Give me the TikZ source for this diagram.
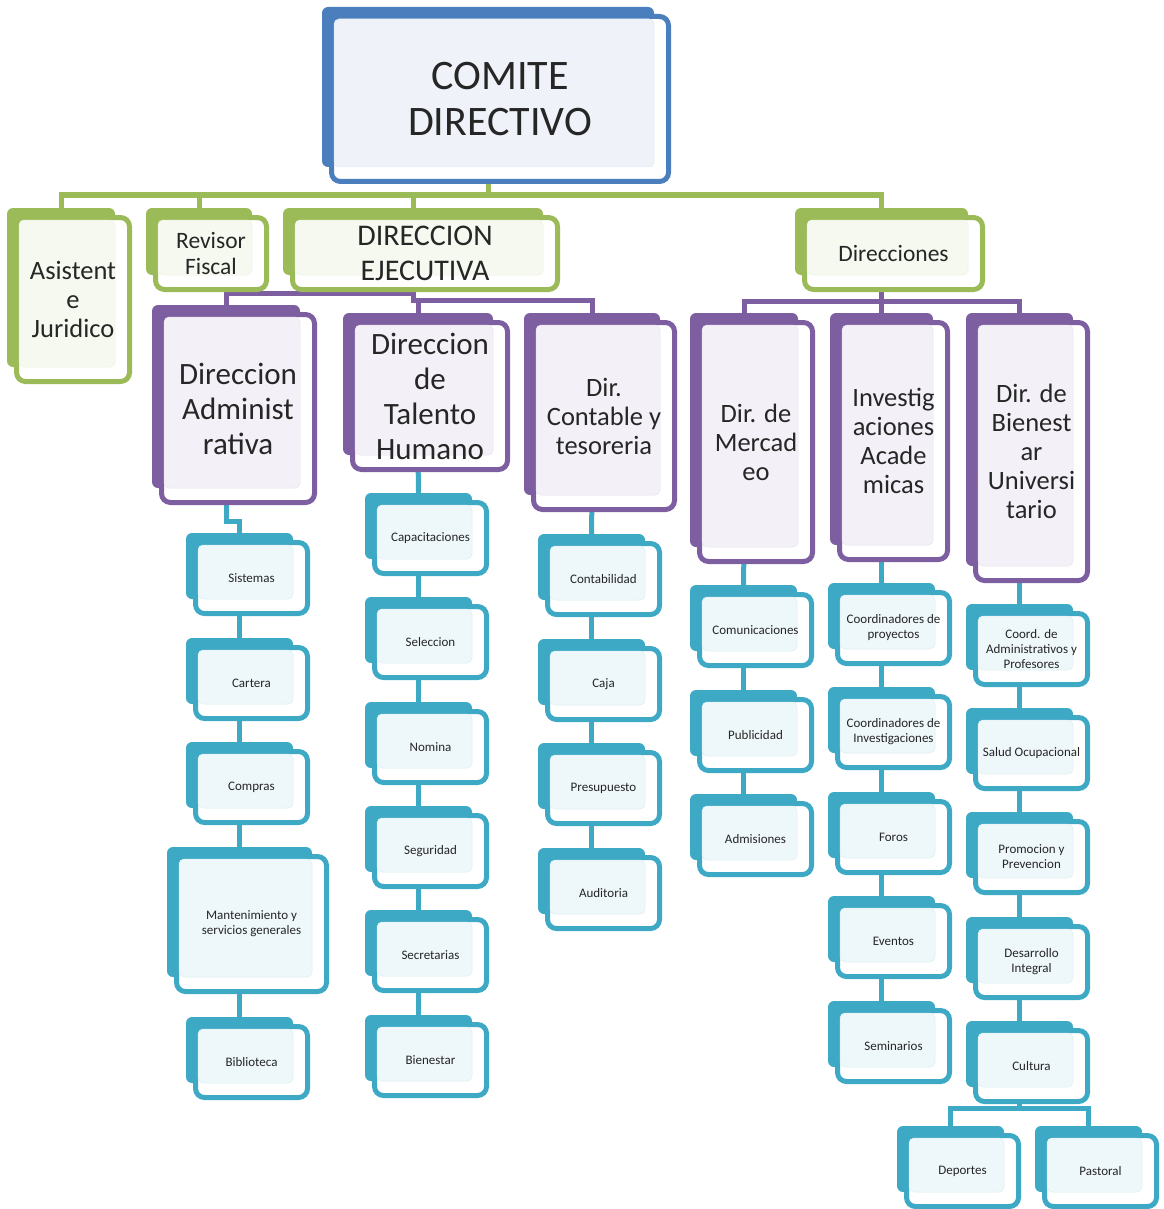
\documentclass[tikz,border=0pt]{standalone}
\usepackage{fontspec}
\setmainfont{Carlito}
\usetikzlibrary{backgrounds}

\definecolor{cBlue}{HTML}{4A7EBC}
\definecolor{cGreen}{HTML}{9BBB59}
\definecolor{cPurple}{HTML}{7D5FA1}
\definecolor{cTeal}{HTML}{3EA9C5}
\definecolor{txtgray}{HTML}{262626}

\newcommand\fsComite{\fontsize{42}{46}\selectfont}
\newcommand\fsAsis{\fontsize{26.5}{29}\selectfont}
\newcommand\fsRevisor{\fontsize{23.5}{26}\selectfont}
\newcommand\fsDirEjec{\fontsize{30}{35}\selectfont}
\newcommand\fsLarge{\fontsize{31}{35}\selectfont}
\newcommand\fsMid{\fontsize{26.5}{29}\selectfont}
\newcommand\fsTeal{\fontsize{13}{15}\selectfont}

% #1 name, #2 colour, #3 font, #4-#7 back box corners, #8 text
\newcommand\orgbox[8]{%
  \node[backbox=#2, minimum width={(#6-#4)*1pt}, minimum height={(#7-#5)*1pt}]
    (#1) at ({(#4+#6)/2},{(#5+#7)/2}) {};
  \draw[frontbox=#2] ({#4+9.5},{#5+9.5}) rectangle ({#6+14.5},{#7+14.5});
  \filldraw[panelbox=#2] ({#4+12},{#5+12}) rectangle (#6,#7);
  \node[boxtext, font=#3] (#1-t) at ({(#4+#6)/2+12},{(#5+#7)/2+12}) {#8};
}

\begin{document}
\begin{tikzpicture}[x=1pt,y=-1pt,
    backbox/.style={fill=#1, rounded corners=6pt, inner sep=0pt, outer sep=0pt},
    frontbox/.style={draw=#1, line width=5pt, fill=white, rounded corners=9pt},
    panelbox/.style={fill=#1!9, draw=#1!18, line width=0.5pt, rounded corners=5pt},
    boxtext/.style={align=center, text=txtgray, inner sep=0pt},
    link/.style={draw=#1, line width=5pt}
  ]
  \useasboundingbox (0,0) rectangle (1163,1209);

  % top
  \orgbox{comite}{cBlue}{\fsComite}{322}{7}{654}{167}{COMITE\\DIRECTIVO}

  % second level
  \orgbox{asis}{cGreen}{\fsAsis}{7}{208}{115}{367}{Asistent\\e\\Juridico}
  \orgbox{revisor}{cGreen}{\fsRevisor}{146}{208}{252}{275}{Revisor\\Fiscal}
  \orgbox{dirEjec}{cGreen}{\fsDirEjec}{283}{208}{543}{275}{DIRECCION\\EJECUTIVA}
  \orgbox{dirs}{cGreen}{\fsRevisor}{795}{208}{968}{275}{Direcciones}

  % directions
  \orgbox{admin}{cPurple}{\fsLarge}{152}{305}{300}{488}{Direccion\\Administ\\rativa}
  \orgbox{talento}{cPurple}{\fsLarge}{343}{313}{493}{455}{Direccion\\de\\Talento\\Humano}
  \orgbox{contable}{cPurple}{\fsMid}{524}{313}{660}{495}{Dir.\\Contable y\\tesoreria}
  \orgbox{mercadeo}{cPurple}{\fsMid}{690}{313}{798}{547}{Dir. de\\Mercad\\eo}
  \orgbox{invest}{cPurple}{\fsMid}{830}{313}{933}{545}{Investig\\aciones\\Acade\\micas}
  \orgbox{bienestar}{cPurple}{\fsMid}{966}{313}{1073}{566}{Dir. de\\Bienest\\ar\\Universi\\tario}

  % administrativa
  \orgbox{sist}{cTeal}{\fsTeal}{186}{533}{293}{599}{Sistemas}
  \orgbox{cart}{cTeal}{\fsTeal}{186}{638}{293}{704}{Cartera}
  \orgbox{comp}{cTeal}{\fsTeal}{186}{742}{293}{808}{Compras}
  \orgbox{mant}{cTeal}{\fsTeal}{167}{847}{312}{977}{Mantenimiento y\\servicios generales}
  \orgbox{bibl}{cTeal}{\fsTeal}{186}{1017}{293}{1083}{Biblioteca}

  % talento humano
  \orgbox{capa}{cTeal}{\fsTeal}{365}{493}{472}{559}{Capacitaciones}
  \orgbox{sele}{cTeal}{\fsTeal}{365}{597}{472}{663}{Seleccion}
  \orgbox{nomi}{cTeal}{\fsTeal}{365}{702}{472}{768}{Nomina}
  \orgbox{segu}{cTeal}{\fsTeal}{365}{806}{472}{872}{Seguridad}
  \orgbox{secr}{cTeal}{\fsTeal}{365}{910}{472}{976}{Secretarias}
  \orgbox{bien}{cTeal}{\fsTeal}{365}{1015}{472}{1081}{Bienestar}

  % contable
  \orgbox{conta}{cTeal}{\fsTeal}{538}{534}{645}{600}{Contabilidad}
  \orgbox{caja}{cTeal}{\fsTeal}{538}{639}{645}{705}{Caja}
  \orgbox{presu}{cTeal}{\fsTeal}{538}{743}{645}{809}{Presupuesto}
  \orgbox{audi}{cTeal}{\fsTeal}{538}{848}{645}{914}{Auditoria}

  % mercadeo
  \orgbox{comu}{cTeal}{\fsTeal}{690}{585}{797}{651}{Comunicaciones}
  \orgbox{publ}{cTeal}{\fsTeal}{690}{690}{797}{756}{Publicidad}
  \orgbox{admi}{cTeal}{\fsTeal}{690}{794}{797}{860}{Admisiones}

  % investigaciones
  \orgbox{coorp}{cTeal}{\fsTeal}{828}{583}{935}{649}{Coordinadores de\\proyectos}
  \orgbox{cooi}{cTeal}{\fsTeal}{828}{687}{935}{753}{Coordinadores de\\Investigaciones}
  \orgbox{foro}{cTeal}{\fsTeal}{828}{792}{935}{858}{Foros}
  \orgbox{even}{cTeal}{\fsTeal}{828}{896}{935}{962}{Eventos}
  \orgbox{semi}{cTeal}{\fsTeal}{828}{1001}{935}{1067}{Seminarios}

  % bienestar
  \orgbox{coad}{cTeal}{\fsTeal}{966}{604}{1073}{670}{Coord. de\\Administrativos y\\Profesores}
  \orgbox{salu}{cTeal}{\fsTeal}{966}{708}{1073}{774}{Salud Ocupacional}
  \orgbox{prom}{cTeal}{\fsTeal}{966}{812}{1073}{878}{Promocion y\\Prevencion}
  \orgbox{desa}{cTeal}{\fsTeal}{966}{917}{1073}{983}{Desarrollo\\Integral}
  \orgbox{cult}{cTeal}{\fsTeal}{966}{1021}{1073}{1087}{Cultura}
  \orgbox{depo}{cTeal}{\fsTeal}{897}{1126}{1004}{1192}{Deportes}
  \orgbox{past}{cTeal}{\fsTeal}{1035}{1126}{1142}{1192}{Pastoral}

  \begin{scope}[on background layer]
    \foreach \b in {asis,revisor,dirEjec,dirs}
      \draw[link=cGreen] (comite.south) -- ++(0,28) -| (\b.north);

    \draw[link=cPurple] (dirEjec.south) -- ++(0,18) -| (admin.north);
    \draw[link=cPurple] (dirEjec.south) -- ++(0,25) -| (talento.north);
    \draw[link=cPurple] (dirEjec.south) -- ++(0,25) -| (contable.north);
    \foreach \b in {mercadeo,invest,bienestar}
      \draw[link=cPurple] (dirs.south) -- ++(0,26) -| (\b.north);

    \draw[link=cTeal] (admin.south) -- ++(0,33) -| (sist.north);
    \foreach \a/\b in {sist/cart,cart/comp,comp/mant,mant/bibl,
        talento/capa,capa/sele,sele/nomi,nomi/segu,segu/secr,secr/bien,
        contable/conta,conta/caja,caja/presu,presu/audi,
        mercadeo/comu,comu/publ,publ/admi,
        invest/coorp,coorp/cooi,cooi/foro,foro/even,even/semi,
        bienestar/coad,coad/salu,salu/prom,prom/desa,desa/cult}
      \draw[link=cTeal] (\a.south) -- (\b.north);
    \draw[link=cTeal] (cult.south) -- ++(0,21) -| (depo.north);
    \draw[link=cTeal] (cult.south) -- ++(0,21) -| (past.north);
  \end{scope}
\end{tikzpicture}
\end{document}
